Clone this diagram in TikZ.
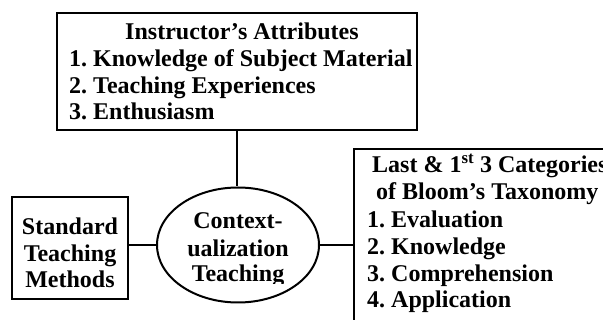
\documentclass[tikz,border=0pt]{standalone}
\usepackage{fontspec}
\setmainfont{Liberation Serif}
\usetikzlibrary{shapes.geometric}
\frenchspacing
\begin{document}
\begin{tikzpicture}[x=1pt,y=-1pt,
  box/.style={draw,line width=2pt,rectangle,inner sep=0pt},
  oval/.style={draw,line width=2pt,ellipse,inner sep=0pt},
  conn/.style={line width=2.2pt},
  txt/.style={inner sep=0pt,font=\fontsize{24}{26.7}\selectfont\bfseries},
  tl/.style={txt,anchor=base west},
  tc/.style={txt,anchor=base}]
\clip (0,0) rectangle (603,320);
\fill[white] (0,0) rectangle (603,320);
% boxes
\node[box,minimum width=360pt,minimum height=117pt] (top) at (237,71.5) {};
\node[oval,minimum width=162pt,minimum height=115pt] (ctx) at (238,245) {};
\node[box,minimum width=116pt,minimum height=102pt] (std) at (70,248) {};
\node[box,minimum width=266pt,minimum height=191pt] (bloom) at (487,244.5) {};
% connectors
\draw[conn] (top.south) -- (top.south |- ctx.north);
\draw[conn] (ctx.west) -- (ctx.west -| std.east);
\draw[conn] (ctx.east) -- (ctx.east -| bloom.west);
% top box text
\node[tc] (ta) at (242,40) {Instructor’s Attributes};
\node[tl] (tb) at (69,67) {1. Knowledge of Subject Material};
\node[tl] (tcc) at (69,93.5) {2. Teaching Experiences};
\node[tl] (td) at (69,120) {3. Enthusiasm};
% standard box text
\node[tc] (sa) at (70,235) {Standard};
\node[tc] (sb) at (70,262) {Teaching};
\node[tc] (sc) at (70,288) {Methods};
% ellipse text
\begin{scope}
\clip (150,180) rectangle (330,283.5);
\node[tc] (ca) at (238,229) {Context-};
\node[tc] (cb) at (238,257) {ualization};
\node[tc] (cc) at (238,282) {Teaching};
\end{scope}
% bloom text
\node[tl] (ba) at (372,173) {Last \& 1\textsuperscript{st} 3 Categories};
\node[tl] (bb) at (376,199.5) {of Bloom’s Taxonomy};
\node[tl] (bc) at (367,228) {1. Evaluation};
\node[tl] (bd) at (367,255) {2. Knowledge};
\node[tl] (be) at (367,281.5) {3. Comprehension};
\node[tl] (bf) at (367,308) {4. Application};
\end{tikzpicture}
\end{document}
